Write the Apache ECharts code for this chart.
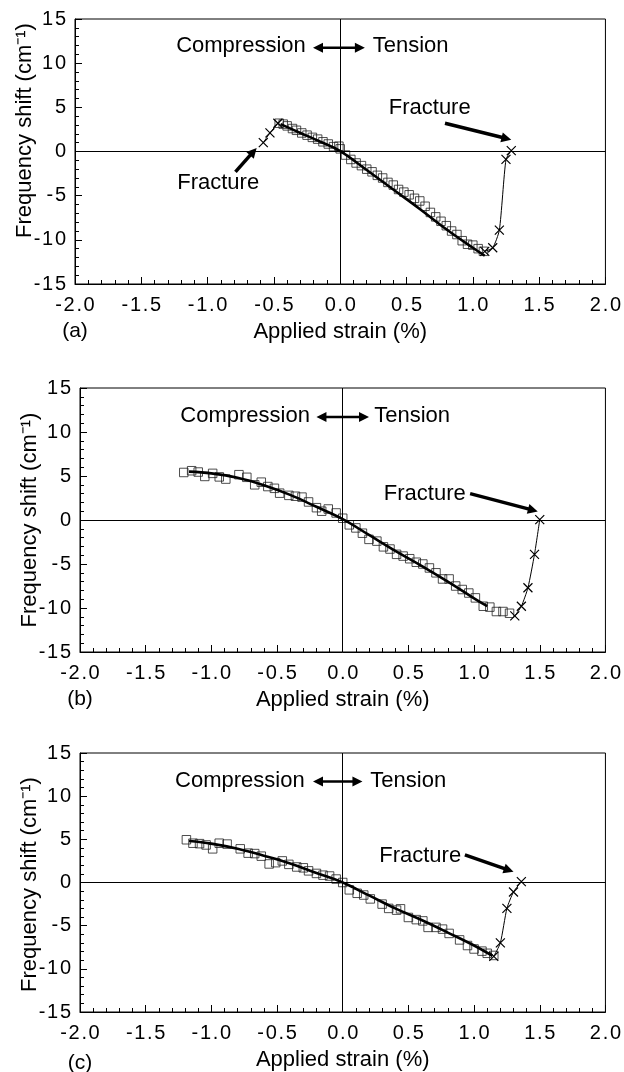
<!DOCTYPE html>
<html><head><meta charset="utf-8">
<script src="https://cdn.jsdelivr.net/npm/echarts@6/dist/echarts.min.js"></script>
<style>html,body{margin:0;padding:0;background:#fff}#c{width:624px;height:1072px}</style>
</head><body><div id="c"></div>
<script>
// ---------- data ----------
const PANEL_LABELS = ['(a)', '(b)', '(c)'];
const X_NAME = 'Applied strain (%)';
const Y_NAME = 'Frequency shift (cm\u207B\u00B9)';

// Panel (a)
const A_SQ_X = [-0.46,-0.43,-0.40,-0.36,-0.33,-0.29,-0.25,-0.21,-0.17,-0.13,-0.09,-0.05,-0.01,0.00,0.04,0.08,0.12,0.16,0.20,0.24,0.28,0.32,0.36,0.40,0.44,0.48,0.52,0.56,0.60,0.64,0.68,0.72,0.76,0.80,0.84,0.88,0.92,0.96,1.00,1.04,1.08];
const A_SQ_Y = [3.2,3.1,2.9,2.6,2.4,2.1,1.85,1.6,1.4,1.1,0.85,0.55,0.6,0.3,-0.4,-0.9,-1.3,-1.6,-2.0,-2.3,-2.7,-3.0,-3.5,-3.8,-4.3,-4.6,-4.9,-5.3,-5.6,-6.2,-6.9,-7.4,-7.9,-8.4,-9.0,-9.4,-10.1,-10.5,-10.6,-11.0,-11.3];
const A_FIT_X = [-0.45,-0.30,-0.15,0.00,0.20,0.40,0.60,0.80,1.00,1.09];
const A_FIT_Y = [3.1,2.1,1.1,0.05,-2.1,-4.3,-6.5,-8.8,-10.9,-11.8];
const A_XL_X = [-0.58,-0.53,-0.47];
const A_XL_Y = [1.0,2.1,3.2];
const A_XR_X = [1.09,1.15,1.20,1.25,1.29];
const A_XR_Y = [-11.3,-10.9,-8.9,-0.9,0.1];

// Panel (b)
const B_SQ_X = [-1.21,-1.15,-1.10,-1.05,-0.99,-0.94,-0.89,-0.79,-0.73,-0.67,-0.62,-0.57,-0.52,-0.48,-0.41,-0.36,-0.31,-0.26,-0.20,-0.16,-0.11,-0.05,0.00,0.05,0.10,0.15,0.20,0.26,0.31,0.36,0.41,0.46,0.51,0.56,0.61,0.66,0.71,0.76,0.81,0.86,0.91,0.96,1.01,1.07,1.12,1.17,1.22,1.27];
const B_SQ_Y = [5.4,5.6,5.45,4.95,5.3,4.9,4.65,5.15,4.85,4.0,4.3,3.8,3.6,3.05,2.8,2.7,2.6,2.05,1.4,1.0,1.25,0.8,0.2,-0.55,-0.9,-1.5,-2.2,-2.4,-3.05,-3.3,-3.9,-4.1,-4.4,-4.8,-5.0,-5.45,-6.0,-6.7,-6.7,-7.5,-7.9,-8.3,-8.85,-9.8,-9.9,-10.4,-10.4,-10.6];
const B_FIT_X = [-1.17,-1.00,-0.80,-0.60,-0.40,-0.20,0.00,0.20,0.40,0.60,0.80,1.00,1.10];
const B_FIT_Y = [5.5,5.3,4.8,3.95,2.85,1.5,0.1,-1.7,-3.5,-5.2,-7.0,-8.9,-9.8];
const B_XR_X = [1.31,1.36,1.41,1.46,1.50];
const B_XR_Y = [-10.9,-9.8,-7.7,-3.9,0.05];

// Panel (c)
const C_SQ_X = [-1.19,-1.14,-1.09,-1.04,-0.99,-0.94,-0.88,-0.78,-0.72,-0.67,-0.62,-0.56,-0.51,-0.46,-0.41,-0.35,-0.30,-0.26,-0.20,-0.15,-0.10,-0.05,0.00,0.05,0.11,0.16,0.21,0.30,0.35,0.41,0.44,0.50,0.56,0.61,0.65,0.71,0.76,0.81,0.89,0.95,1.00,1.06,1.10,1.15];
const C_SQ_Y = [4.95,4.55,4.5,4.35,3.9,4.55,4.45,3.9,3.4,3.35,3.05,2.15,2.3,2.5,2.1,1.8,1.7,1.35,1.05,0.85,0.75,0.4,0.0,-0.85,-1.25,-1.45,-1.9,-2.5,-3.0,-3.2,-3.05,-4.05,-4.3,-4.45,-5.2,-5.2,-5.4,-5.9,-6.65,-7.3,-7.7,-7.95,-8.2,-8.45];
const C_FIT_X = [-1.17,-1.00,-0.80,-0.60,-0.40,-0.20,0.00,0.20,0.40,0.60,0.80,1.00,1.14];
const C_FIT_Y = [4.8,4.5,3.9,3.1,2.2,1.1,0.0,-1.5,-3.0,-4.35,-5.8,-7.3,-8.5];
const C_XR_X = [1.15,1.20,1.25,1.30,1.36];
const C_XR_Y = [-8.55,-7.0,-3.0,-1.1,0.1];

// annotations (data coordinates)
const ANNOT = [
  { g:0, comp:[-0.26,11.9], ten:[0.245,11.9], dbl:[[-0.205,11.75],[0.186,11.75]],
    frac:[ {text:[0.675,4.9], from:[0.79,3.2], to:[1.29,1.33]}, {text:[-0.92,-3.6], from:[-0.79,-2.3], to:[-0.63,0.4]} ] },
  { g:1, comp:[-0.25,11.8], ten:[0.24,11.8], dbl:[[-0.2,11.7],[0.2,11.7]],
    frac:[ {text:[0.625,3.0], from:[0.97,3.0], to:[1.485,0.98]} ] },
  { g:2, comp:[-0.29,11.8], ten:[0.21,11.8], dbl:[[-0.226,11.7],[0.15,11.7]],
    frac:[ {text:[0.59,3.04], from:[0.93,3.2], to:[1.3,1.25]} ] }
];

// ---------- chart ----------
const FONT = '"Liberation Sans", Arial, Helvetica, sans-serif';
const zip = (xs, ys) => xs.map((x, i) => [x, ys[i]]);
const spaced = s => String(s).split('').join('\u200A');
const GRIDS = [
  { left: 75, top: 19, width: 532, height: 265 },
  { left: 80, top: 388, width: 528, height: 264 },
  { left: 80, top: 753, width: 531, height: 263 }
];
const CROSS = 'path://M0,0L10,10M10,0L0,10';

const chart = echarts.init(document.getElementById('c'), null, { renderer: 'canvas' });

const xAxes = [], yAxes = [], series = [];
GRIDS.forEach((g, i) => {
  xAxes.push({
    type: 'value', gridIndex: i, min: -2, max: 2, interval: 0.5,
    name: X_NAME, nameLocation: 'middle', nameGap: 37,
    nameTextStyle: { fontFamily: FONT, fontSize: 22, color: '#000' },
    axisLine: { show: true, onZero: false, lineStyle: { color: '#000', width: 1 } },
    axisTick: { show: true, inside: true, length: 7, lineStyle: { color: '#000' } },
    minorTick: { show: true, splitNumber: 5, length: 4, lineStyle: { color: '#000' } },
    splitLine: { show: false },
    axisLabel: { fontFamily: FONT, fontSize: 20, color: '#000', margin: 11, formatter: v => spaced(v.toFixed(1)) }
  });
  yAxes.push({
    type: 'value', gridIndex: i, min: -15, max: 15, interval: 5,
    axisLine: { show: true, onZero: false, lineStyle: { color: '#000', width: 1 } },
    axisTick: { show: true, inside: true, length: 7, lineStyle: { color: '#000' } },
    minorTick: { show: true, splitNumber: 5, length: 4, lineStyle: { color: '#000' } },
    splitLine: { show: false },
    axisLabel: { fontFamily: FONT, fontSize: 20, color: '#000', margin: 9, formatter: v => spaced(v) }
  });
});

const PANELS = [
  { sq: zip(A_SQ_X, A_SQ_Y), fit: zip(A_FIT_X, A_FIT_Y), cr: [zip(A_XL_X, A_XL_Y), zip(A_XR_X, A_XR_Y)] },
  { sq: zip(B_SQ_X, B_SQ_Y), fit: zip(B_FIT_X, B_FIT_Y), cr: [zip(B_XR_X, B_XR_Y)] },
  { sq: zip(C_SQ_X, C_SQ_Y), fit: zip(C_FIT_X, C_FIT_Y), cr: [zip(C_XR_X, C_XR_Y)] }
];

PANELS.forEach((p, i) => {
  series.push({
    type: 'scatter', xAxisIndex: i, yAxisIndex: i, data: p.sq,
    symbol: 'rect', symbolSize: 8.5, z: 2,
    itemStyle: { color: 'rgba(0,0,0,0)', borderColor: '#222', borderWidth: 1 }
  });
  series.push({
    type: 'line', xAxisIndex: i, yAxisIndex: i, data: p.fit, smooth: 0.4,
    showSymbol: false, symbol: 'none', z: 3,
    lineStyle: { color: '#000', width: 2.6 },
    markLine: {
      silent: true, symbol: 'none', label: { show: false },
      lineStyle: { color: '#000', width: 1, type: 'solid' },
      data: [{ xAxis: 0 }, { yAxis: 0 }]
    }
  });
  p.cr.forEach(c => {
    series.push({
      type: 'line', xAxisIndex: i, yAxisIndex: i, data: c, smooth: 0.2,
      symbol: CROSS, symbolSize: 9, showSymbol: true, z: 4,
      lineStyle: { color: '#000', width: 1 },
      itemStyle: { color: 'rgba(0,0,0,0)', borderColor: '#000', borderWidth: 1.2 }
    });
  });
});

chart.setOption({
  animation: false,
  backgroundColor: '#fff',
  grid: GRIDS.map(g => Object.assign({ show: true, borderColor: '#000', borderWidth: 1, backgroundColor: 'transparent' }, g)),
  xAxis: xAxes, yAxis: yAxes, series: series
});

// ---------- annotations via graphic ----------
const P = (g, v) => chart.convertToPixel({ gridIndex: g }, v);
function txt(x, y, text, size, align, rot) {
  return { type: 'text', x: x, y: y, rotation: rot || 0, z: 10,
    style: { text: text, fontFamily: FONT, fontSize: size, fill: '#000',
      align: align, textAlign: align, verticalAlign: 'middle', textVerticalAlign: 'middle' } };
}
function head(tip, from, len, wid) {
  const dx = tip[0] - from[0], dy = tip[1] - from[1];
  const L = Math.hypot(dx, dy), ux = dx / L, uy = dy / L;
  const bx = tip[0] - ux * len, by = tip[1] - uy * len;
  return { type: 'polygon', z: 10, shape: { points: [tip, [bx - uy * wid, by + ux * wid], [bx + uy * wid, by - ux * wid]] }, style: { fill: '#000' } };
}
function arrow(a, b, w, both) {
  const els = [];
  const dx = b[0] - a[0], dy = b[1] - a[1], L = Math.hypot(dx, dy);
  const ux = dx / L, uy = dy / L, hl = 10;
  const a2 = both ? [a[0] + ux * hl * 0.8, a[1] + uy * hl * 0.8] : a;
  const b2 = [b[0] - ux * hl * 0.8, b[1] - uy * hl * 0.8];
  els.push({ type: 'line', z: 10, shape: { x1: a2[0], y1: a2[1], x2: b2[0], y2: b2[1] }, style: { stroke: '#000', lineWidth: w } });
  els.push(head(b, a, hl, 5));
  if (both) els.push(head(a, b, hl, 5));
  return els;
}
const graphics = [];
ANNOT.forEach(an => {
  const g = an.g;
  const c = P(g, an.comp), t = P(g, an.ten);
  graphics.push(txt(c[0], c[1], 'Compression', 22, 'right'));
  graphics.push(txt(t[0], t[1], 'Tension', 22, 'left'));
  graphics.push(...arrow(P(g, an.dbl[0]), P(g, an.dbl[1]), 2.5, true));
  an.frac.forEach(f => {
    const tp = P(g, f.text);
    graphics.push(txt(tp[0], tp[1], 'Fracture', 22, 'center'));
    graphics.push(...arrow(P(g, f.from), P(g, f.to), 3.5, false));
  });
});
// y-axis names and panel labels
const YNAME_SHIFT = [-21, 0, 0];
GRIDS.forEach((gr, i) => {
  graphics.push(txt(gr.left - 50, gr.top + gr.height / 2 + YNAME_SHIFT[i], Y_NAME, 22, 'center', Math.PI / 2));
  graphics.push(txt(gr.left, gr.top + gr.height + 47, PANEL_LABELS[i], 21, 'center'));
});
chart.setOption({ graphic: graphics });
</script>
</body></html>
